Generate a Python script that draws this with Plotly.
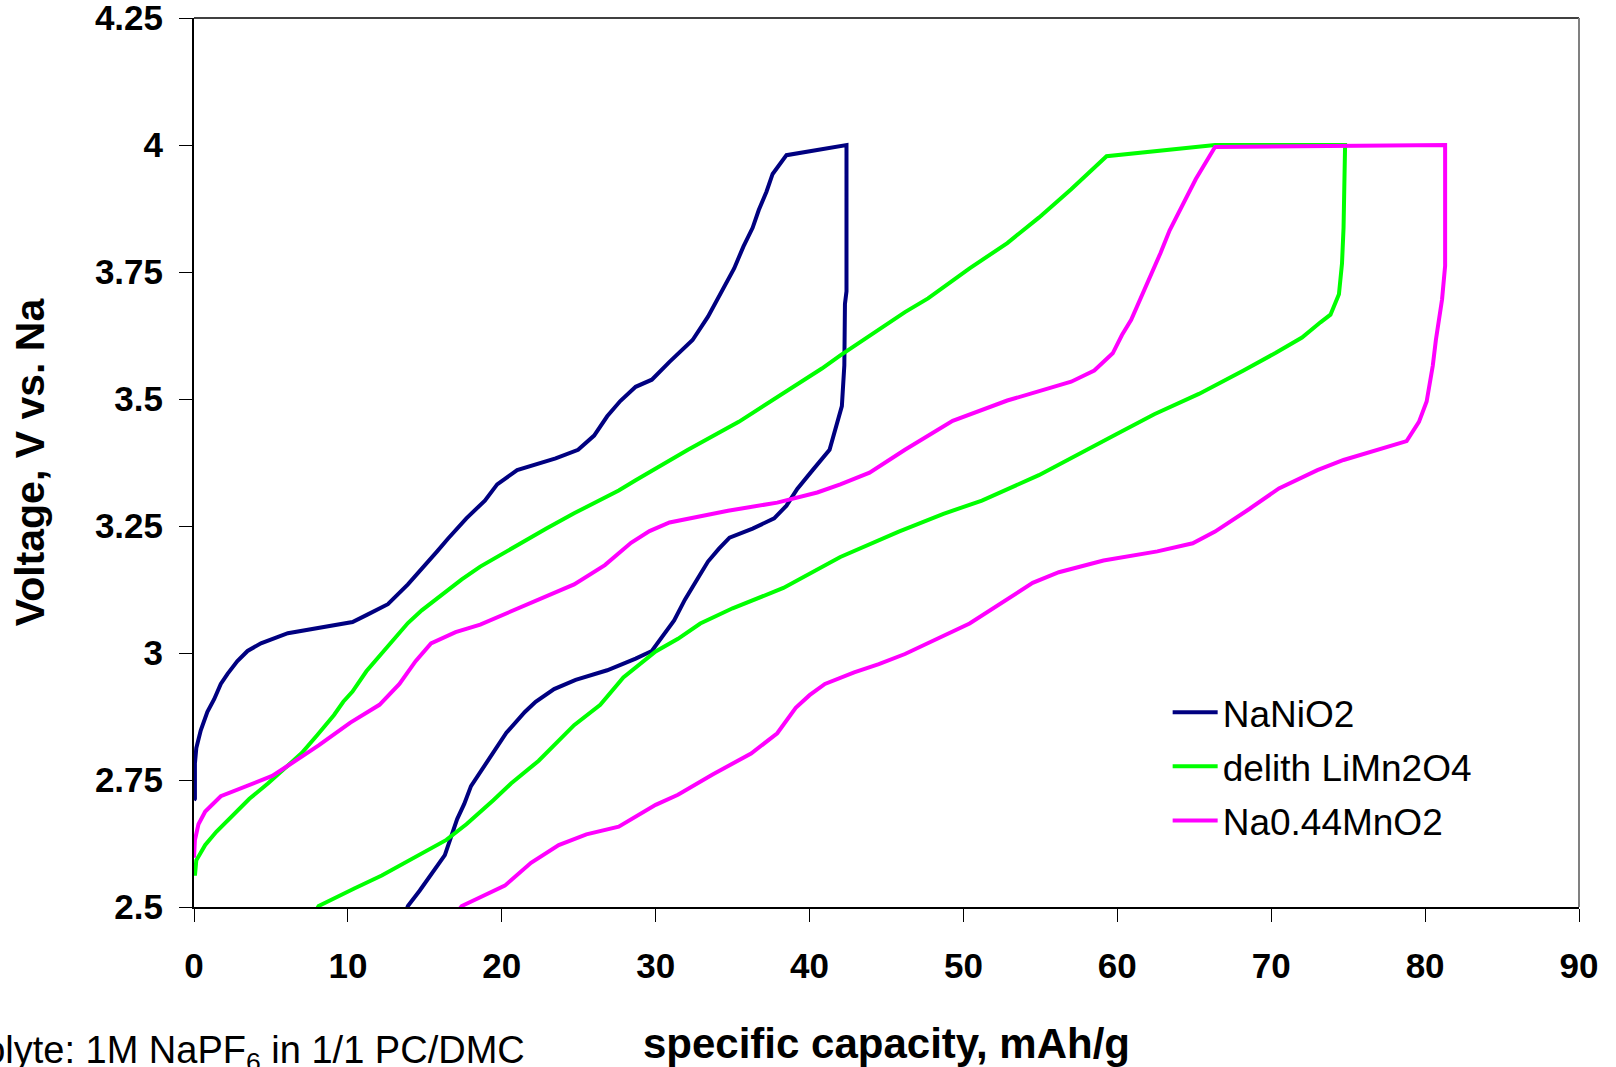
import plotly.graph_objects as go

# ---- data (capacity mAh/g, voltage V) ----
nanio2_x = [0.0, 0.06, 0.06, 0.15, 0.44, 0.87, 1.31, 1.74, 2.18, 2.82, 3.48, 4.35, 6.1, 8.13, 10.3, 11.3, 12.6, 13.9,
            14.66, 15.8, 16.5, 17.7, 18.9, 19.7, 21.0, 23.5, 24.96, 26.0, 26.85, 27.7, 28.7, 29.75, 30.9, 32.4, 33.4,
            34.1, 35.1, 35.7, 36.3, 36.7, 37.2, 37.6, 38.5, 42.4,
            42.4, 42.3, 42.26, 42.1, 41.7, 41.3, 40.2, 39.2, 38.5, 37.7, 36.3, 34.8, 34.1, 33.4, 32.8, 31.9, 31.2, 30.5,
            29.75, 28.7, 26.85, 24.8, 23.4, 22.2, 21.5, 20.3, 19.2, 18.7, 18.0, 17.56, 17.1, 16.3, 15.4, 14.66, 13.9, 13.5]
nanio2_v = [2.71, 2.713, 2.783, 2.813, 2.848, 2.884, 2.909, 2.939, 2.959, 2.984, 3.004, 3.019, 3.039, 3.049, 3.061, 3.076,
            3.096, 3.135, 3.16, 3.20, 3.225, 3.265, 3.30, 3.332, 3.36, 3.383, 3.40, 3.428, 3.466, 3.496, 3.524, 3.538,
            3.573, 3.616, 3.662, 3.702, 3.757, 3.80, 3.837, 3.872, 3.908, 3.943, 3.98, 4.0,
            3.712, 3.687, 3.566, 3.486, 3.446, 3.40, 3.36, 3.323, 3.29, 3.265, 3.245, 3.227, 3.205, 3.18, 3.15, 3.105,
            3.064, 3.034, 3.004, 2.989, 2.966, 2.947, 2.929, 2.904, 2.884, 2.843, 2.793, 2.773, 2.738, 2.703, 2.673,
            2.602, 2.562, 2.532, 2.502, 2.47]

limn2o4_x = [0.0, 0.06, 0.15, 0.73, 1.45, 2.6, 3.6, 4.8, 5.95, 7.0, 8.0, 9.1, 9.7, 10.3, 11.2, 12.2, 13.1, 13.9, 14.8,
             16.5, 17.4, 18.6, 20.0, 21.5, 22.9, 24.7, 26.1, 27.6, 28.7, 30.0, 32.1, 35.4, 38.7, 40.8, 42.0, 44.1,
             46.2, 47.7, 50.4, 52.85, 54.9, 57.0, 59.3, 66.35, 74.8,
             74.7, 74.6, 74.4, 73.85, 73.2, 72.0, 70.3, 68.2, 65.3, 62.4, 59.9, 57.4, 54.9, 51.2, 48.7, 45.8, 42.0,
             38.3, 35.0, 32.9, 31.45, 30.0, 27.9, 26.4, 24.7, 22.4, 20.6, 19.45, 17.7, 16.4, 14.9, 13.9, 12.2, 10.45,
             8.1, 7.5]
limn2o4_v = [2.575, 2.562, 2.592, 2.622, 2.648, 2.683, 2.713, 2.743, 2.773, 2.803, 2.838, 2.878, 2.904, 2.924, 2.964,
             2.999, 3.029, 3.059, 3.084, 3.124, 3.145, 3.17, 3.195, 3.22, 3.245, 3.275, 3.297, 3.32, 3.34, 3.363,
             3.40, 3.455, 3.52, 3.56, 3.586, 3.628, 3.671, 3.698, 3.757, 3.807, 3.857, 3.913, 3.978, 4.0, 4.0,
             3.837, 3.767, 3.706, 3.666, 3.651, 3.621, 3.591, 3.556, 3.51, 3.47, 3.43, 3.39, 3.35, 3.30, 3.274, 3.239,
             3.189, 3.128, 3.088, 3.058, 3.028, 3.003, 2.952, 2.898, 2.858, 2.788, 2.743, 2.71, 2.663, 2.632, 2.607,
             2.592, 2.562, 2.537, 2.502, 2.47]

na044_x = [0.0, 0.06, 0.29, 0.73, 1.74, 3.48, 5.08, 6.1, 8.1, 10.16, 12.05, 13.35, 14.4, 15.4, 17.0, 18.6, 21.5, 24.7,
           26.7, 28.4, 29.6, 30.9, 34.7, 37.9, 40.5, 42.0, 43.9, 46.2, 49.3, 52.85, 57.0, 58.5, 59.7, 60.3, 60.9,
           61.5, 62.2, 62.8, 63.4, 64.1, 65.1, 66.35, 81.3,
           81.3, 81.1, 80.7, 80.5, 80.1, 79.6, 78.8, 76.9, 74.7, 73.0, 70.5, 68.6, 66.35, 64.9, 62.6, 59.1, 56.2,
           54.5, 52.4, 50.4, 48.3, 46.2, 44.5, 42.9, 41.0, 40.0, 39.1, 37.9, 36.2, 33.7, 31.45, 30.0, 27.6, 25.5,
           23.7, 21.9, 20.2, 17.4, 16.6]
na044_v = [2.597, 2.632, 2.663, 2.688, 2.718, 2.738, 2.758, 2.778, 2.818, 2.863, 2.898, 2.939, 2.984, 3.019, 3.041,
           3.056, 3.094, 3.135, 3.173, 3.217, 3.24, 3.257, 3.28, 3.296, 3.316, 3.332, 3.355, 3.40, 3.457, 3.497,
           3.534, 3.556, 3.59, 3.626, 3.656, 3.696, 3.747, 3.787, 3.832, 3.872, 3.933, 3.996, 4.0,
           3.762, 3.696, 3.616, 3.566, 3.495, 3.455, 3.417, 3.40, 3.38, 3.36, 3.324, 3.284, 3.239, 3.216, 3.20,
           3.182, 3.159, 3.138, 3.098, 3.058, 3.028, 2.998, 2.978, 2.962, 2.939, 2.917, 2.892, 2.842, 2.802,
           2.761, 2.721, 2.701, 2.658, 2.643, 2.622, 2.587, 2.542, 2.502, 2.47]

series_names = ["NaNiO2", "delith LiMn2O4", "Na0.44MnO2"]
series_colors = ["#000080", "#00FF00", "#FF00FF"]

x_ticks = [0, 10, 20, 30, 40, 50, 60, 70, 80, 90]
y_ticks = [2.5, 2.75, 3.0, 3.25, 3.5, 3.75, 4.0, 4.25]
y_tick_text = ["2.5", "2.75", "3", "3.25", "3.5", "3.75", "4", "4.25"]

FONT = "Arial, 'Liberation Sans', sans-serif"

fig = go.Figure()
for i, (xs, vs) in enumerate([(nanio2_x, nanio2_v), (limn2o4_x, limn2o4_v), (na044_x, na044_v)]):
    fig.add_trace(go.Scatter(
        x=xs, y=vs, mode="lines", name=series_names[i], legendgroup=f"g{i}",
        line=dict(color=series_colors[i], width=4),
    ))

fig.update_layout(
    width=1616, height=1067,
    margin=dict(l=194, r=37, t=18, b=160, autoexpand=False),
    paper_bgcolor="white", plot_bgcolor="white",
    font=dict(family=FONT, color="black"),
    showlegend=True,
    legend=dict(
        x=0.703, y=0.2535, xanchor="left", yanchor="top",
        font=dict(family=FONT, size=37, color="black"),
        bgcolor="rgba(0,0,0,0)", borderwidth=0,
        traceorder="grouped", tracegroupgap=3, itemwidth=45,
    ),
    xaxis=dict(
        range=[0, 90], tickvals=x_ticks, ticktext=[str(t) for t in x_ticks],
        showgrid=False, zeroline=False,
        showline=True, linecolor="black", linewidth=2,
        ticks="outside", ticklen=13, tickwidth=1, tickcolor="black",
        tickfont=dict(family=FONT, size=35, color="black", weight="bold"),
        ticklabelstandoff=14, ticklabeloverflow="allow",
        title=dict(text="specific capacity, mAh/g", standoff=46,
                   font=dict(family=FONT, size=42, color="black", weight="bold")),
        automargin=False,
    ),
    yaxis=dict(
        range=[2.5, 4.25], tickvals=y_ticks, ticktext=y_tick_text,
        showgrid=False, zeroline=False,
        showline=True, linecolor="black", linewidth=2,
        ticks="outside", ticklen=13, tickwidth=1, tickcolor="black",
        tickfont=dict(family=FONT, size=35, color="black", weight="bold"),
        ticklabelstandoff=9, ticklabeloverflow="allow",
        title=dict(text="Voltage, V vs. Na", standoff=38,
                   font=dict(family=FONT, size=41, color="black", weight="bold")),
        automargin=False,
    ),
    shapes=[
        dict(type="line", xref="paper", yref="paper", x0=0, x1=1, y0=1, y1=1,
             line=dict(color="#404040", width=2)),
        dict(type="line", xref="paper", yref="paper", x0=1, x1=1, y0=0, y1=1,
             line=dict(color="#808080", width=2)),
    ],
    annotations=[
        dict(text="Electrolyte: 1M NaPF<sub>6</sub> in 1/1 PC/DMC", xref="paper", yref="paper",
             x=0.2406, y=-0.164, xanchor="right", yanchor="middle", showarrow=False,
             font=dict(family=FONT, size=38, color="black")),
    ],
)

fig.write_html("out.html", config={"displayModeBar": False},
               post_script="document.body.style.margin='0';document.body.style.overflow='hidden';")
